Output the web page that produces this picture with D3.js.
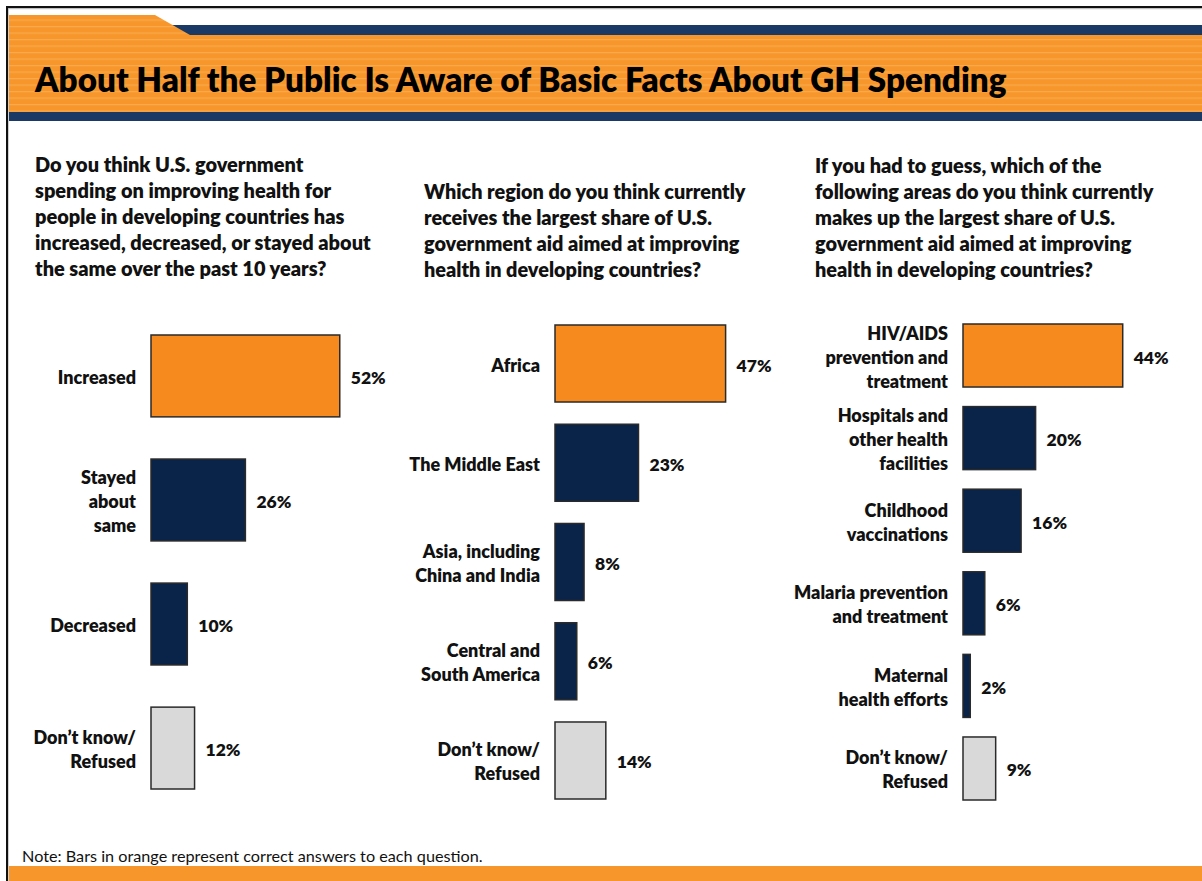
<!DOCTYPE html>
<html>
<head>
<meta charset="utf-8">
<script src="https://cdn.jsdelivr.net/npm/d3@7"></script>
<style>
  html, body { margin: 0; padding: 0; background: #fff; }
  svg { display: block; }
  text { font-family: Lato, "Open Sans", "Liberation Sans", sans-serif; }
</style>
</head>
<body>
<svg id="chart" width="1202" height="881"></svg>
<script>
// ---- Data ----
const title = "About Half the Public Is Aware of Basic Facts About GH Spending";
const note = "Note: Bars in orange represent correct answers to each question.";

const q1Text = ["Do you think U.S. government", "spending on improving health for",
  "people in developing countries has", "increased, decreased, or stayed about",
  "the same over the past 10 years?"];
const q1Categories = ["Increased", "Stayed\nabout\nsame", "Decreased", "Don\u2019t know/\nRefused"];
const q1Values = [52, 26, 10, 12];

const q2Text = ["Which region do you think currently", "receives the largest share of U.S.",
  "government aid aimed at improving", "health in developing countries?"];
const q2Categories = ["Africa", "The Middle East", "Asia, including\nChina and India",
  "Central and\nSouth America", "Don\u2019t know/\nRefused"];
const q2Values = [47, 23, 8, 6, 14];

const q3Text = ["If you had to guess, which of the", "following areas do you think currently",
  "makes up the largest share of U.S.", "government aid aimed at improving",
  "health in developing countries?"];
const q3Categories = ["HIV/AIDS\nprevention and\ntreatment", "Hospitals and\nother health\nfacilities",
  "Childhood\nvaccinations", "Malaria prevention\nand treatment", "Maternal\nhealth efforts",
  "Don\u2019t know/\nRefused"];
const q3Values = [44, 20, 16, 6, 2, 9];

const correctAnswers = [q1Categories[0], q2Categories[0], q3Categories[0]];

// ---- Styling ----
const ORANGE_BAR = "#F68A1E";
const NAVY_BAR = "#0A2349";
const GRAY_BAR = "#D9D9D9";
const HEADER_ORANGE = "#F7972B";
const HEADER_NAVY = "#1A3A65";

const svg = d3.select("#chart");
const W = 1202, H = 881;

// scale a text element's font size so its widest line spans `target` px
function fitWidth(el, baseSize, target) {
  const w = el.node().getBBox().width;
  el.attr("font-size", baseSize * target / w);
}

// ---- Frame & header band ----
const defs = svg.append("defs");
const pat = defs.append("pattern").attr("id", "stripes")
  .attr("patternUnits", "userSpaceOnUse").attr("width", 8).attr("height", 6.5);
pat.append("rect").attr("width", 8).attr("height", 6.5).attr("fill", HEADER_ORANGE);
pat.append("rect").attr("y", 0).attr("width", 8).attr("height", 1.2).attr("fill", "#F9A84C");

svg.append("rect").attr("x", 0).attr("y", 0).attr("width", W).attr("height", H).attr("fill", "#fff");

// navy top strip
svg.append("rect").attr("x", 160).attr("y", 25).attr("width", W - 160).attr("height", 10).attr("fill", HEADER_NAVY);
// orange body with a notched top-left tab
svg.append("path")
  .attr("d", `M9,15 L155,15 L190,35 L${W},35 L${W},112 L9,112 Z`)
  .attr("fill", "url(#stripes)");
// navy bottom strip
svg.append("rect").attr("x", 9).attr("y", 112).attr("width", W - 9).attr("height", 9).attr("fill", HEADER_NAVY);

// outer black frame lines
svg.append("rect").attr("x", 6).attr("y", 6).attr("width", W - 6).attr("height", 2.2).attr("fill", "#111");
svg.append("rect").attr("x", 6).attr("y", 6).attr("width", 2.2).attr("height", H - 6).attr("fill", "#111");
svg.append("rect").attr("x", 8).attr("y", 8.2).attr("width", W - 8).attr("height", 1).attr("fill", "#bbb");

// bottom orange band
svg.append("rect").attr("x", 9).attr("y", 866).attr("width", W - 9).attr("height", H - 866).attr("fill", HEADER_ORANGE);

// title, fitted to its span
const titleEl = svg.append("text").attr("x", 35).attr("y", 92)
  .attr("font-size", 30).attr("font-weight", 800).attr("fill", "#000").text(title);
fitWidth(titleEl, 30, 973);

// note
const noteEl = svg.append("text").attr("x", 22).attr("y", 862).attr("font-size", 15).attr("fill", "#111").text(note);
fitWidth(noteEl, 15, 461);

// ---- Panels ----
function drawQuestion(lines, x, y0, target) {
  const t = svg.append("text").attr("x", x).attr("font-size", 18).attr("font-weight", 800).attr("fill", "#111");
  lines.forEach((ln, i) => t.append("tspan").attr("x", x).attr("y", y0 + i * 26).text(ln));
  fitWidth(t, 18, target);
}

function drawPanel(cfg) {
  const { categories, values, barX, labelX, yRange, padInner } = cfg;
  const data = categories.map((c, i) => ({ cat: c, val: values[i] }));
  const x = d3.scaleLinear().domain([0, 100]).range([barX, barX + 363]);
  const y = d3.scaleBand().domain(categories).range(yRange).paddingInner(padInner).paddingOuter(0);

  const colorOf = d => correctAnswers.includes(d.cat) ? ORANGE_BAR
    : d.cat.startsWith("Don") ? GRAY_BAR : NAVY_BAR;

  const g = svg.append("g");
  g.selectAll("rect.bar").data(data).join("rect")
    .attr("class", "bar")
    .attr("x", x(0)).attr("y", d => y(d.cat))
    .attr("width", d => x(d.val) - x(0)).attr("height", y.bandwidth())
    .attr("fill", colorOf).attr("stroke", "#2a2a2a").attr("stroke-width", 1.5);

  // value labels
  g.selectAll("text.val").data(data).join("text")
    .attr("class", "val")
    .attr("x", d => x(d.val) + 11).attr("y", d => y(d.cat) + y.bandwidth() / 2 + 8)
    .attr("font-size", 17.5).attr("font-weight", 800).attr("fill", "#111")
    .text(d => d.val + "%");

  // category labels (multi-line, right aligned)
  const lh = 24;
  g.selectAll("text.cat").data(data).join("text")
    .attr("class", "cat").attr("text-anchor", "end")
    .attr("font-size", 18).attr("font-weight", 800).attr("fill", "#111")
    .each(function (d) {
      const lines = d.cat.split("\n");
      const cy = y(d.cat) + y.bandwidth() / 2;
      const first = cy - (lines.length - 1) * lh / 2 + 8;
      lines.forEach((ln, i) => d3.select(this).append("tspan")
        .attr("x", labelX).attr("y", first + i * lh).text(ln));
    });
}

drawQuestion(q1Text, 35, 172, 336);
drawQuestion(q2Text, 424, 199, 322);
drawQuestion(q3Text, 815, 173, 339);

drawPanel({ categories: q1Categories, values: q1Values, barX: 151, labelX: 136, yRange: [335, 789], padInner: 0.34 });
drawPanel({ categories: q2Categories, values: q2Values, barX: 555, labelX: 540, yRange: [325, 799], padInner: 0.224 });
drawPanel({ categories: q3Categories, values: q3Values, barX: 963, labelX: 948, yRange: [324, 800], padInner: 0.237 });
</script>
</body>
</html>
